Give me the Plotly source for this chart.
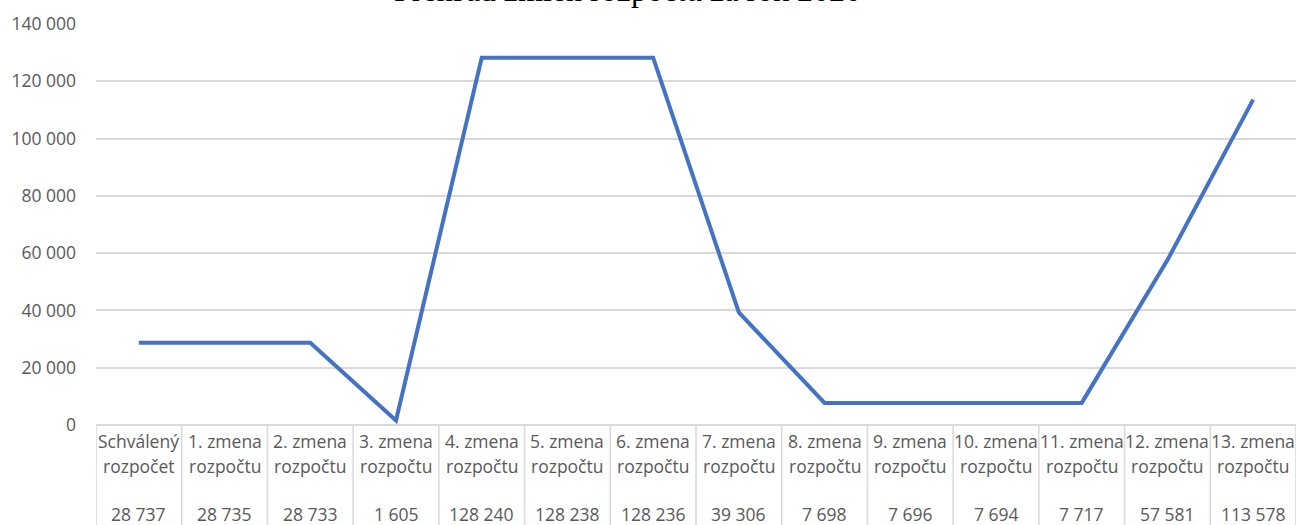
import plotly.graph_objects as go

title_text = "Prehľad zmien rozpočtu za rok 2020"
categories = [
    "Schválený rozpočet", "1. zmena rozpočtu", "2. zmena rozpočtu", "3. zmena rozpočtu",
    "4. zmena rozpočtu", "5. zmena rozpočtu", "6. zmena rozpočtu", "7. zmena rozpočtu",
    "8. zmena rozpočtu", "9. zmena rozpočtu", "10. zmena rozpočtu", "11. zmena rozpočtu",
    "12. zmena rozpočtu", "13. zmena rozpočtu",
]
values = [28737, 28735, 28733, 1605, 128240, 128238, 128236, 39306,
          7698, 7696, 7694, 7717, 57581, 113578]
y_ticks = [0, 20000, 40000, 60000, 80000, 100000, 120000, 140000]

def fmt(v):
    return f"{v:,}".replace(",", " ")

x_idx = list(range(len(categories)))
text_color = "#595959"
grid_color = "#d9d9d9"
font_family = "Open Sans"

fig = go.Figure()
fig.add_trace(go.Scatter(
    x=x_idx, y=values, mode="lines",
    line=dict(color="#4472C4", width=4),
    hoverinfo="skip", showlegend=False,
))

annotations = []
for i, (cat, v) in enumerate(zip(categories, values)):
    first, second = cat.rsplit(" ", 1)
    for txt, shift in ((first, -16), (second, -41), (fmt(v), -89)):
        annotations.append(dict(
            x=i, y=0, xref="x", yref="paper", text=txt, showarrow=False,
            yanchor="middle", xanchor="center", yshift=shift,
            font=dict(family=font_family, size=17.5, color=text_color),
        ))
annotations.append(dict(
    x=0.443, y=1, xref="paper", yref="paper", text=title_text, showarrow=False,
    xanchor="center", yanchor="bottom", yshift=14,
    font=dict(family="Liberation Serif", size=32, color="#000000"),
))

shapes = []
for i in range(len(categories) + 1):
    shapes.append(dict(
        type="line", xref="x", yref="paper", x0=i - 0.5, x1=i - 0.5,
        y0=0, y1=-0.3, line=dict(color=grid_color, width=1.5), layer="below",
    ))

fig.update_layout(
    width=1299, height=525,
    margin=dict(l=96, r=3, t=24, b=100),
    paper_bgcolor="white", plot_bgcolor="white",
    separators=". ",
    annotations=annotations, shapes=shapes,
    xaxis=dict(range=[-0.5, len(categories) - 0.5], showticklabels=False,
               showgrid=False, zeroline=False, showline=False, fixedrange=True),
    yaxis=dict(range=[0, 140000], tickvals=y_ticks,
               ticktext=[fmt(t) for t in y_ticks],
               showgrid=True, gridcolor=grid_color, gridwidth=1.5,
               zeroline=True, zerolinecolor=grid_color, zerolinewidth=1.5,
               showline=False, ticklabelstandoff=19,
               tickfont=dict(family=font_family, size=17.5, color=text_color)),
)

fig.write_html("out.html",
               config={"displayModeBar": False},
               post_script="document.body.style.margin='0px';document.body.style.overflow='hidden';")
